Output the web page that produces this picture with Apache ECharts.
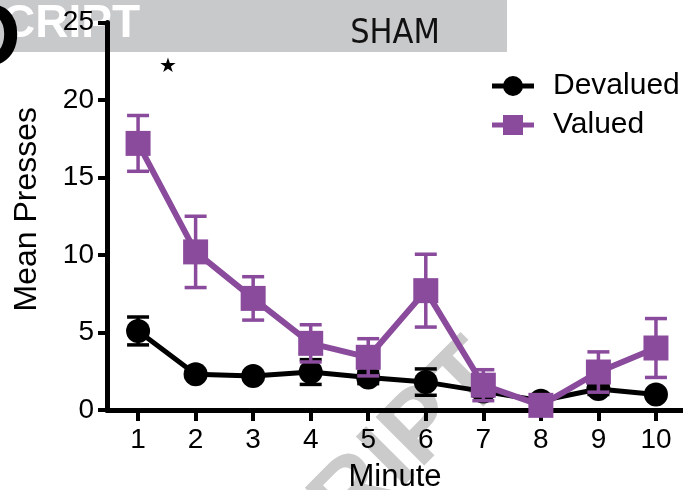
<!DOCTYPE html>
<html>
<head>
<meta charset="utf-8">
<script src="https://cdn.jsdelivr.net/npm/echarts@6.0.0/dist/echarts.min.js"></script>
<style>
  html, body { margin: 0; padding: 0; background: #fff; }
  #chart { width: 683px; height: 490px; }
</style>
</head>
<body>
<div id="chart"></div>
<script>
// data (mean +/- sem)
const minutes = [1, 2, 3, 4, 5, 6, 7, 8, 9, 10];
const devalued = [5.1, 2.3, 2.2, 2.45, 2.1, 1.8, 1.2, 0.6, 1.35, 1.0];
const devaluedSem = [0.9, 0.2, 0.2, 0.8, 0.4, 0.85, 0.3, 0.2, 0.35, 0.2];
const valued = [17.2, 10.2, 7.2, 4.3, 3.4, 7.7, 1.6, 0.3, 2.45, 4.0];
const valuedSem = [1.8, 2.3, 1.4, 1.2, 1.2, 2.35, 1.0, 0.3, 1.3, 1.9];
const yTicks = [0, 5, 10, 15, 20, 25];

const FONT = "'Liberation Sans', Arial, sans-serif";
const PURPLE = '#8b4b9c';

function errData(mean, sem) {
  return minutes.map((m, i) => [m, mean[i] - sem[i], mean[i] + sem[i]]);
}

// error bars drawn through the axis scales
function errorBars(color, width) {
  return function (params, api) {
    const x = api.value(0);
    const lo = api.coord([x, api.value(1)]);
    const hi = api.coord([x, api.value(2)]);
    const hw = 11;
    const st = { stroke: color, lineWidth: width };
    return {
      type: 'group',
      children: [
        { type: 'line', shape: { x1: lo[0], y1: lo[1], x2: hi[0], y2: hi[1] }, style: st },
        { type: 'line', shape: { x1: hi[0] - hw, y1: hi[1], x2: hi[0] + hw, y2: hi[1] }, style: st },
        { type: 'line', shape: { x1: lo[0] - hw, y1: lo[1], x2: lo[0] + hw, y2: lo[1] }, style: st }
      ]
    };
  };
}

// legend icons: line with marker on top
const circleIcon = 'path://M0,8H42V13H0Z M11,10.5A10,10 0 1,1 31,10.5A10,10 0 1,1 11,10.5Z';
const squareIcon = 'path://M0,8H42V13H0Z M11,0.5H31V20.5H11Z';

const chart = echarts.init(document.getElementById('chart'), null, { renderer: 'canvas' });

chart.setOption({
  animation: false,
  backgroundColor: '#fff',
  textStyle: { fontFamily: FONT },
  grid: { left: 107, right: 0, top: 22.5, bottom: 80, outerBoundsMode: 'none', containLabel: false },
  graphic: [
    // header band
    { type: 'rect', z: -20, shape: { x: 0, y: 0, width: 507, height: 52 }, style: { fill: '#c8c9cb' } },
    { type: 'text', z: -19, x: 395, y: 34, style: { text: 'SHAM', font: "34px 'Liberation Sans Narrow', 'DejaVu Sans Condensed', sans-serif", fill: '#111', align: 'center', verticalAlign: 'middle' } },
    { type: 'text', z: -19, x: 2, y: 24, style: { text: 'CRIPT', font: "bold 46px 'Liberation Sans', Arial, sans-serif", fill: '#fff', align: 'left', verticalAlign: 'middle' } },
    { type: 'text', z: -18, x: -44, y: 41, style: { text: 'D', font: "bold 90px 'Liberation Sans', Arial, sans-serif", fill: '#000', align: 'left', verticalAlign: 'middle' } },
    // diagonal watermark
    { type: 'text', z: -20, x: 455, y: 325, rotation: Math.PI / 4,
      style: { text: 'ACCEPTED MANUSCRIPT', font: "bold 100px 'Liberation Sans', Arial, sans-serif", fill: '#cbcbcb', align: 'right', verticalAlign: 'alphabetic' } },
    // significance star
    { type: 'text', z: 5, x: 168, y: 67, style: { text: '★', font: "20px 'DejaVu Sans', sans-serif", fill: '#000', align: 'center', verticalAlign: 'middle' } }
  ],
  legend: {
    orient: 'vertical',
    left: 487,
    top: 66,
    itemWidth: 42,
    itemHeight: 21,
    itemGap: 9,
    textStyle: { fontSize: 30, color: '#000', fontFamily: FONT, padding: [0, 0, 0, 14] },
    data: [
      { name: 'Devalued', icon: circleIcon },
      { name: 'Valued', icon: squareIcon }
    ]
  },
  xAxis: {
    type: 'value',
    min: 0.46,
    max: 10.47,
    name: 'Minute',
    nameLocation: 'middle',
    nameGap: 52,
    nameTextStyle: { fontSize: 31, color: '#000', fontFamily: FONT },
    axisLine: { lineStyle: { color: '#000', width: 5 } },
    axisTick: { customValues: minutes, length: 11, lineStyle: { color: '#000', width: 4 } },
    axisLabel: { customValues: minutes, fontSize: 28, color: '#000', margin: 16, fontFamily: FONT },
    splitLine: { show: false }
  },
  yAxis: {
    type: 'value',
    min: 0,
    max: 25,
    interval: 5,
    name: 'Mean Presses',
    nameLocation: 'middle',
    nameGap: 64,
    nameTextStyle: { fontSize: 32, color: '#000', fontFamily: FONT, padding: [0, 0, 0, 14] },
    axisLine: { show: true, lineStyle: { color: '#000', width: 5 } },
    axisTick: { show: true, length: 9, lineStyle: { color: '#000', width: 4 } },
    axisLabel: { fontSize: 28, color: '#000', margin: 13, fontFamily: FONT,
      formatter: v => (yTicks.indexOf(v) >= 0 ? String(v) : '') },
    splitLine: { show: false }
  },
  series: [
    {
      type: 'custom',
      name: 'devErr',
      z: 3,
      renderItem: errorBars('#000', 3.5),
      data: errData(devalued, devaluedSem),
      silent: true
    },
    {
      type: 'line',
      name: 'Devalued',
      z: 4,
      data: minutes.map((m, i) => [m, devalued[i]]),
      symbol: 'circle',
      symbolSize: 24,
      itemStyle: { color: '#000' },
      lineStyle: { color: '#000', width: 5 }
    },
    {
      type: 'custom',
      name: 'valErr',
      z: 5,
      renderItem: errorBars(PURPLE, 3.5),
      data: errData(valued, valuedSem),
      silent: true
    },
    {
      type: 'line',
      name: 'Valued',
      z: 6,
      data: minutes.map((m, i) => [m, valued[i]]),
      symbol: 'rect',
      symbolSize: 25,
      itemStyle: { color: PURPLE },
      lineStyle: { color: PURPLE, width: 6 }
    }
  ]
});
</script>
</body>
</html>
